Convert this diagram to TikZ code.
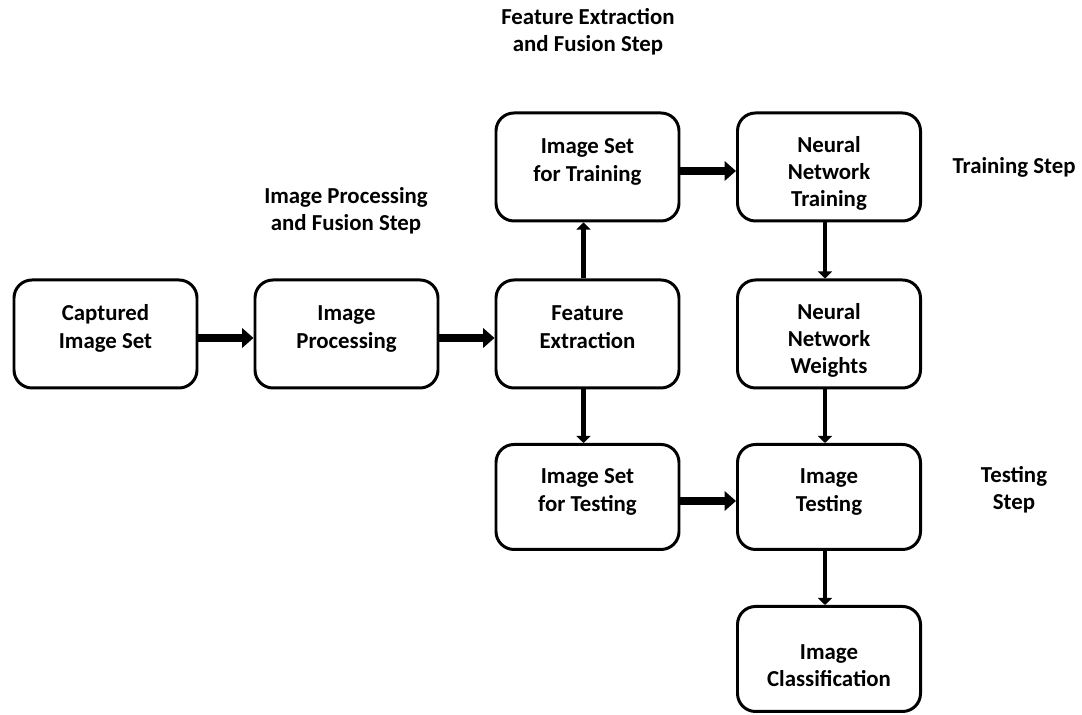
\documentclass[tikz,border=0pt]{standalone}
\usepackage{fontspec}
\setmainfont{Carlito}
\usetikzlibrary{arrows.meta,positioning}

\newcommand{\topgap}{\rule{0pt}{16pt}}

\tikzset{
  stepbox/.style={draw,line width=1.7pt,rounded corners=0.36cm,minimum width=3.66cm,
    minimum height=2.16cm,align=center,font=\bfseries\fontsize{13}{15.4}\selectfont},
  steplabel/.style={align=center,font=\bfseries\fontsize{13}{15.4}\selectfont},
  harrow/.style={line width=4.5pt,-{Triangle[length=6.5pt,width=11pt]}},
  varrow/.style={line width=2.6pt,-{Triangle[length=4pt,width=8pt]}}
}

\begin{document}
\begin{tikzpicture}
  \useasboundingbox (0,0) rectangle (21.64,14.3);

  % Boxes
  \node[stepbox] (captured) at (2.11,7.62) {\topgap Captured\\Image Set\\\mbox{}};
  \node[stepbox] (proc) at (6.93,7.62) {\topgap Image\\Processing\\\mbox{}};
  \node[stepbox] (feat) at (11.75,7.62) {\topgap Feature\\Extraction\\\mbox{}};
  \node[stepbox] (train) at (11.75,10.96) {\topgap Image Set\\for Training\\\mbox{}};
  \node[stepbox] (nntrain) at (16.58,10.96) {\topgap Neural\\Network\\Training};
  \node[stepbox] (weights) at (16.58,7.62) {\topgap Neural\\Network\\Weights};
  \node[stepbox,minimum height=2.1cm] (test) at (11.75,4.36) {\topgap Image Set\\for Testing\\\mbox{}};
  \node[stepbox,minimum height=2.1cm] (imtest) at (16.58,4.36) {\topgap Image\\Testing\\\mbox{}};
  \node[stepbox,minimum height=2.1cm] (classif) at (16.58,1.12) {\topgap Image\\Classification};

  % Step labels
  \node[steplabel] (lbfeat) at (11.76,13.66) {Feature Extraction\\and Fusion Step};
  \node[steplabel] (lbproc) at (6.92,10.08) {Image Processing\\and Fusion Step};
  \node[steplabel] (lbtrain) at (20.28,10.96) {Training Step};
  \node[steplabel] (lbtest) at (20.28,4.5) {Testing\\Step};

  % Arrows
  \draw[harrow] ([yshift=-0.08cm]captured.east) -- ([yshift=-0.08cm]proc.west);
  \draw[harrow] ([yshift=-0.08cm]proc.east) -- ([yshift=-0.08cm]feat.west);
  \draw[harrow] ([yshift=-0.08cm]train.east) -- ([yshift=-0.08cm]nntrain.west);
  \draw[harrow] ([yshift=-0.08cm]test.east) -- ([yshift=-0.08cm]imtest.west);
  \draw[varrow] ([xshift=-0.08cm]feat.north) -- ([xshift=-0.08cm]train.south);
  \draw[varrow] ([xshift=-0.08cm]nntrain.south) -- ([xshift=-0.08cm]weights.north);
  \draw[varrow] ([xshift=-0.08cm]feat.south) -- ([xshift=-0.08cm]test.north);
  \draw[varrow] ([xshift=-0.08cm]weights.south) -- ([xshift=-0.08cm]imtest.north);
  \draw[varrow] ([xshift=-0.08cm]imtest.south) -- ([xshift=-0.08cm]classif.north);
\end{tikzpicture}
\end{document}
